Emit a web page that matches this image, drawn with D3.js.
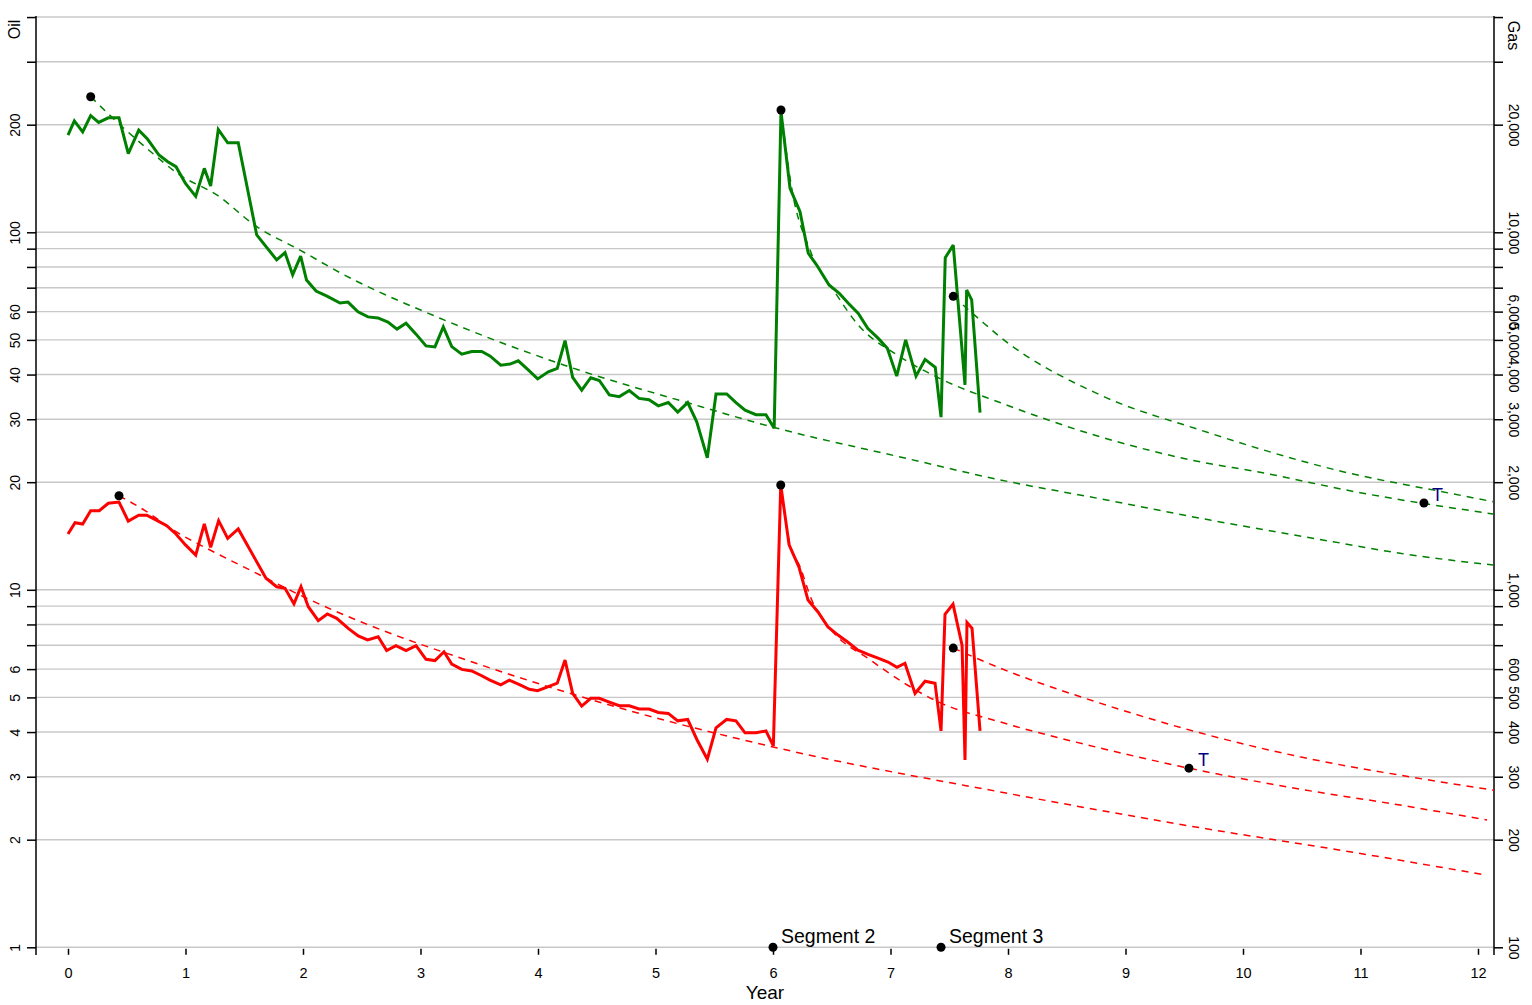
<!DOCTYPE html>
<html>
<head>
<meta charset="utf-8">
<script src="https://cdn.jsdelivr.net/npm/d3@7"></script>
<style>
html,body{margin:0;padding:0;background:#fff;}
svg{display:block;font-family:"Liberation Sans",Arial,sans-serif;}
</style>
</head>
<body>
<svg id="chart" width="1532" height="1005"></svg>
<script>
// ---------- DATA ----------
const xTicks = [0,1,2,3,4,5,6,7,8,9,10,11,12];
const oilGrid = [1,2,3,4,5,6,7,8,9,10,20,30,40,50,60,70,80,90,100,200,300,400];
const oilLabels = [1,2,3,4,5,6,10,20,30,40,50,60,100,200];
const gasGrid = oilGrid.map(v => v*100);
const gasLabels = [100,200,300,400,500,600,1000,2000,3000,4000,5000,6000,10000,20000];

// Oil (green, left axis)
const oilYears = [0.0,0.054,0.125,0.193,0.261,0.343,0.434,0.513,0.602,0.678,0.774,0.849,0.919,1.0,1.087,1.16,1.214,1.279,1.359,1.449,
  1.606,1.776,1.847,1.912,1.98,2.03,2.111,2.204,2.315,2.383,2.468,2.553,2.638,2.723,2.8,2.877,2.962,3.047,3.123,3.194,
  3.266,3.351,3.436,3.521,3.591,3.683,3.762,3.832,3.917,3.997,4.088,4.164,4.23,4.295,4.372,4.449,4.522,4.607,4.692,4.777,
  4.86,4.945,5.024,5.109,5.189,5.274,5.351,5.441,5.515,5.606,5.685,5.762,5.855,5.94,6.01,
  6.068,6.145,6.23,6.30,6.372,6.477,6.564,6.641,6.726,6.806,6.896,6.973,7.053,7.129,7.217,7.294,7.381,7.430,
  7.466,7.534,7.634,7.648,7.691,7.762];
const oilValues = [187,205,191,212,203,209,209,166,193,182,164.5,157.6,152.6,137,126,151,134.7,194,178,178,
  98.3,83.7,87.7,76,85.8,73.5,68.5,66.3,63.4,63.8,59.9,58,57.6,56.1,53.6,55.7,51.9,48.1,47.8,54.4,
  47.9,45.6,46.4,46.4,45.1,42.5,42.8,43.7,41.2,38.9,40.7,41.6,49.8,39.3,36.2,39.2,38.5,35.1,34.7,36.1,
  34.3,34.0,32.7,33.4,31.4,33.4,29.5,23.4,35.3,35.3,33.4,31.8,30.9,30.9,28.3,
  217.5,132.8,114.2,87.4,81,71.2,67.5,63.3,59.3,53.9,50.5,47.4,39.6,50,39.6,44.1,41.9,30.4,
  84.9,92.1,37.4,69,64.7,31.3];

// Gas (red, right axis)
const gasYears = [0.0,0.06,0.125,0.193,0.266,0.343,0.434,0.513,0.602,0.67,0.76,0.84,0.913,1.0,1.087,1.16,1.214,1.282,1.359,1.449,
  1.685,1.776,1.847,1.923,1.983,2.045,2.13,2.207,2.287,2.385,2.47,2.55,2.64,2.712,2.791,2.877,2.962,3.047,3.123,3.2,
  3.266,3.351,3.436,3.521,3.591,3.683,3.756,3.847,3.926,3.997,4.088,4.164,4.23,4.295,4.372,4.449,4.522,4.607,4.692,4.777,
  4.86,4.945,5.024,5.109,5.189,5.274,5.351,5.441,5.515,5.606,5.685,5.762,5.855,5.94,6.003,
  6.066,6.137,6.221,6.298,6.383,6.468,6.553,6.638,6.723,6.809,6.894,6.979,7.055,7.123,7.209,7.294,7.379,7.430,
  7.464,7.532,7.609,7.634,7.651,7.694,7.762];
const gasValues = [1432,1541,1528,1664,1664,1746,1760,1557,1616,1616,1561,1511,1439,1335,1251,1528,1315,1561,1393,1480,
  1077,1020,1010,913,1020,897,820,856,832,780,743,724,739,676,698,676,698,639,634,671,
  620,599,593,575,559,542,559,542,527,522,536,548,636,513,473,497,497,485,474,474,
  464,464,454,451,430,434,382,336,411,434,430,398,398,403,366,
  1964,1335,1158,936,867,787,747,713,678,660,644,628,607,623,513,555,548,403,
  854,912,700,334,810,780,403];

// Forecast curves (dashed)
const oilFc1Years = [0.193,0.414,0.670,0.953,1.266,1.606,1.974,2.315,3.166,4.298,5.268,6.0,7.138,7.932,8.840,9.719,10.766,11.336,12.128];
const oilFc1Values = [239.5,203.9,171.8,144.6,127.2,103.7,89.2,77.1,57.5,41.7,33.4,28.5,23.3,20.3,17.83,15.67,13.63,12.65,11.73];
const oilFc2Years = [6.068,6.159,6.315,6.542,6.712,7.081,7.449,7.932,8.783,9.634,10.116,10.996,12.128];
const oilFc2Values = [219.9,133,89.2,66.8,55.7,44.9,38.6,33.4,26.8,22.8,21.4,18.69,16.3];
const oilFc3Years = [7.534,7.762,7.932,8.783,9.634,10.851,11.734,12.128];
const oilFc3Values = [66.2,56.9,51,35.1,28,21.4,18.7,17.64];

const gasFc1Years = [0.434,0.67,0.896,1.237,1.577,2.031,2.598,3.308,4.698,6.187,7.932,9.634,10.911,12.077];
const gasFc1Values = [1833,1654,1470,1278,1124,947,788,650,467,352,272,216,185,159];
const gasFc2Years = [6.066,6.145,6.23,6.33,6.485,6.826,7.43,7.932,8.783,9.54,10.485,11.336,12.077];
const gasFc2Values = [1964,1335,1160,936,780,637,482,427,361,317,277,250,227];
const gasFc3Years = [7.534,7.932,8.783,9.634,10.485,11.336,12.136];
const gasFc3Values = [687,604,482,398,341,303,275];

// Segment start points and terminal points
const oilSegDots = [[0.193,239.5],[6.068,219.9],[7.534,66.2]];
const gasSegDots = [[0.434,1833],[6.066,1964],[7.534,687]];
const oilTerminal = [11.54,17.49];
const gasTerminal = [9.54,317];
const segmentMarks = [[6.0,"Segment 2"],[7.43,"Segment 3"]];

// ---------- CHART ----------
const svg = d3.select("#chart");
const L = 36, R = 1494, T = 16, B = 947.3;
const decade = 357.5;

const x = d3.scaleLinear().domain([0,12]).range([68,1478]);
const yOil = d3.scaleLog().domain([1,400]).range([B, B - decade*Math.log10(400)]);
const yGas = d3.scaleLog().domain([100,40000]).range([B, B - decade*Math.log10(400)]);

// gridlines
svg.append("g").selectAll("line").data(oilGrid).join("line")
  .attr("x1", L).attr("x2", R)
  .attr("y1", d => yOil(d)).attr("y2", d => yOil(d))
  .attr("stroke", "#c8c8c8").attr("stroke-width", 1.4);

// left axis
const gL = svg.append("g").attr("transform", `translate(${L},0)`)
  .call(d3.axisLeft(yOil).tickValues(oilGrid).tickSize(9).tickSizeOuter(0)
    .tickFormat(d => oilLabels.includes(d) ? d3.format(",")(d) : ""));
gL.select(".domain").remove();
gL.selectAll(".tick line").attr("stroke", "#000").attr("stroke-width", 1.5);
gL.selectAll(".tick text")
  .attr("x", null).attr("dy", null)
  .attr("text-anchor", "middle")
  .attr("transform", "translate(-16.5,0) rotate(-90)")
  .attr("font-size", 14).attr("fill", "#000");
svg.append("line").attr("x1", L).attr("x2", L).attr("y1", T).attr("y2", 955)
  .attr("stroke", "#000").attr("stroke-width", 1.5);

// right axis
const gR = svg.append("g").attr("transform", `translate(${R},0)`)
  .call(d3.axisRight(yGas).tickValues(gasGrid).tickSize(9).tickSizeOuter(0)
    .tickFormat(d => gasLabels.includes(d) ? d3.format(",")(d) : ""));
gR.select(".domain").remove();
gR.selectAll(".tick line").attr("stroke", "#000").attr("stroke-width", 1.5);
gR.selectAll(".tick text")
  .attr("x", null).attr("dy", null)
  .attr("text-anchor", "middle")
  .attr("transform", "translate(15,0) rotate(90)")
  .attr("font-size", 14).attr("fill", "#000");
svg.append("line").attr("x1", R).attr("x2", R).attr("y1", T).attr("y2", 955)
  .attr("stroke", "#000").attr("stroke-width", 1.5);

// bottom axis
const gB = svg.append("g").attr("transform", `translate(0,${B+1.5})`)
  .call(d3.axisBottom(x).tickValues(xTicks).tickSize(6).tickSizeOuter(0).tickFormat(d3.format("d")));
gB.select(".domain").remove();
gB.selectAll(".tick line").attr("stroke", "#000").attr("stroke-width", 1.5);
gB.selectAll(".tick text").attr("y", 19).attr("dy", "0.71em").attr("font-size", 14.5).attr("fill", "#000");

// axis titles
svg.append("text").attr("transform", "translate(19.5,29.5) rotate(-90)")
  .attr("text-anchor", "middle").attr("font-size", 16).text("Oil");
svg.append("text").attr("transform", "translate(1508,35.5) rotate(90)")
  .attr("text-anchor", "middle").attr("font-size", 16).text("Gas");
svg.append("text").attr("x", 765).attr("y", 999)
  .attr("text-anchor", "middle").attr("font-size", 19).text("Year");

// dashed forecasts
function zip(a, b){ return a.map((v,i) => [v, b[i]]); }
const lineOil = d3.line().x(d => x(d[0])).y(d => yOil(d[1])).curve(d3.curveMonotoneX);
const lineGas = d3.line().x(d => x(d[0])).y(d => yGas(d[1])).curve(d3.curveMonotoneX);
const dash = "7,6";
[[oilFc1Years,oilFc1Values],[oilFc2Years,oilFc2Values],[oilFc3Years,oilFc3Values]].forEach(([a,b]) => {
  svg.append("path").attr("d", lineOil(zip(a,b))).attr("fill","none")
    .attr("stroke","#008000").attr("stroke-width",1.5).attr("stroke-dasharray",dash);
});
[[gasFc1Years,gasFc1Values],[gasFc2Years,gasFc2Values],[gasFc3Years,gasFc3Values]].forEach(([a,b]) => {
  svg.append("path").attr("d", lineGas(zip(a,b))).attr("fill","none")
    .attr("stroke","#ff0000").attr("stroke-width",1.5).attr("stroke-dasharray",dash);
});

// solid actuals
const lineOilS = d3.line().x(d => x(d[0])).y(d => yOil(d[1]));
const lineGasS = d3.line().x(d => x(d[0])).y(d => yGas(d[1]));
svg.append("path").attr("d", lineOilS(zip(oilYears, oilValues))).attr("fill","none")
  .attr("stroke","#008000").attr("stroke-width",3).attr("stroke-linejoin","miter").attr("stroke-miterlimit",3);
svg.append("path").attr("d", lineGasS(zip(gasYears, gasValues))).attr("fill","none")
  .attr("stroke","#ff0000").attr("stroke-width",3).attr("stroke-linejoin","miter").attr("stroke-miterlimit",3);

// dots
svg.append("g").selectAll("circle").data(oilSegDots).join("circle")
  .attr("cx", d => x(d[0])).attr("cy", d => yOil(d[1])).attr("r", 4.5).attr("fill", "#000");
svg.append("g").selectAll("circle").data(gasSegDots).join("circle")
  .attr("cx", d => x(d[0])).attr("cy", d => yGas(d[1])).attr("r", 4.5).attr("fill", "#000");
svg.append("circle").attr("cx", x(oilTerminal[0])).attr("cy", yOil(oilTerminal[1])).attr("r", 4.5).attr("fill", "#000");
svg.append("circle").attr("cx", x(gasTerminal[0])).attr("cy", yGas(gasTerminal[1])).attr("r", 4.5).attr("fill", "#000");
svg.append("text").attr("x", x(oilTerminal[0]) + 8).attr("y", yOil(oilTerminal[1]) - 2)
  .attr("font-size", 18).attr("fill", "#000080").text("T");
svg.append("text").attr("x", x(gasTerminal[0]) + 9).attr("y", yGas(gasTerminal[1]) - 2)
  .attr("font-size", 18).attr("fill", "#000080").text("T");

// segment markers
const segG = svg.append("g").selectAll("g").data(segmentMarks).join("g");
segG.append("circle").attr("cx", d => x(d[0])).attr("cy", B).attr("r", 4.5).attr("fill", "#000");
segG.append("text").attr("x", d => x(d[0]) + 8).attr("y", B - 4)
  .attr("font-size", 19.5).attr("fill", "#000").text(d => d[1]);
</script>
</body>
</html>
